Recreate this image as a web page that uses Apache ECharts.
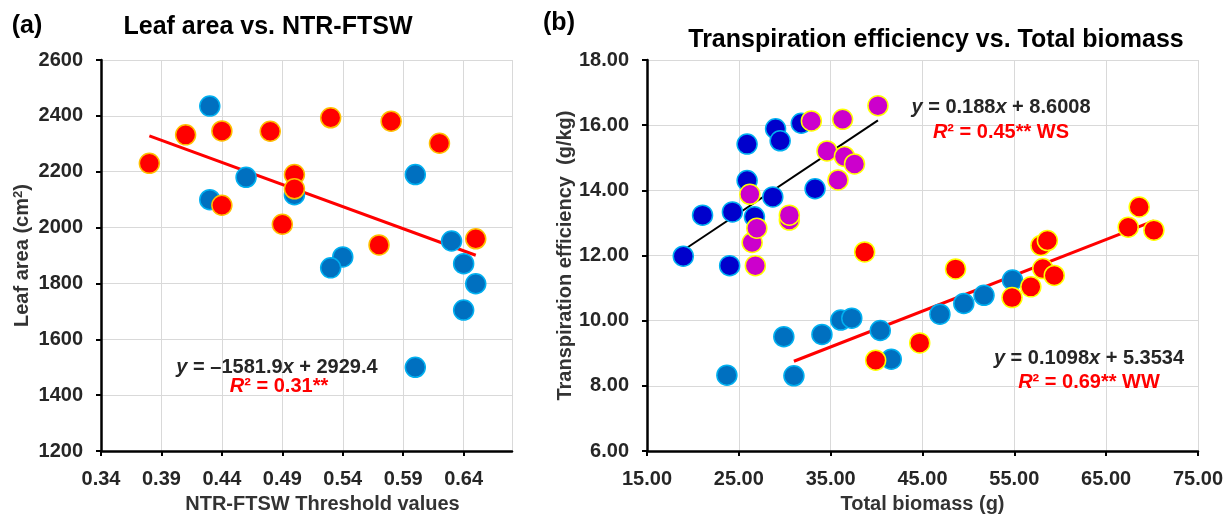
<!DOCTYPE html>
<html>
<head>
<meta charset="utf-8">
<script src="https://cdn.jsdelivr.net/npm/echarts@6/dist/echarts.min.js"></script>
<style>
  html, body { margin: 0; background: #fff; }
  #chart { width: 1226px; height: 519px; }
</style>
</head>
<body>
<div id="chart"></div>
<script>
// ---- (a) Leaf area vs. NTR-FTSW ----
var leafBlueX = [0.43, 0.43, 0.46, 0.50, 0.60, 0.63, 0.54, 0.53, 0.64, 0.65, 0.64, 0.60];
var leafBlueY = [2435, 2100, 2180, 2118, 2190, 1952, 1895, 1856, 1871, 1799, 1705, 1500];
var leafRedX = [0.38, 0.41, 0.44, 0.44, 0.48, 0.49, 0.50, 0.50, 0.53, 0.58, 0.62, 0.57, 0.65];
var leafRedY = [2230, 2332, 2346, 2080, 2345, 2012, 2190, 2139, 2393, 2381, 2302, 1938, 1960];
// trendline: slope, intercept, x from, x to
var leafFit = [-1581.9, 2929.4, 0.38, 0.65];

// ---- (b) Transpiration efficiency vs. Total biomass ----
// WS group
var wsBlueX = [18.95, 21.05, 24.3, 24.0, 25.9, 25.9, 26.7, 28.7, 29.0, 29.5, 31.8, 33.3];
var wsBlueY = [11.98, 13.24, 13.34, 11.69, 15.42, 14.30, 13.19, 13.80, 15.89, 15.52, 16.06, 14.05];
var wsPinkX = [26.2, 26.45, 26.96, 26.8, 30.5, 30.5, 32.9, 34.6, 35.8, 36.3, 36.5, 37.6, 40.15];
var wsPinkY = [13.88, 12.40, 12.84, 11.69, 13.09, 13.24, 16.13, 15.21, 14.32, 16.18, 15.04, 14.81, 16.60];
// WW group
var wwBlueX = [23.7, 29.9, 31.0, 34.05, 36.1, 37.3, 40.4, 41.6, 46.9, 49.5, 51.7, 54.8];
var wwBlueY = [8.33, 9.51, 8.31, 9.58, 10.02, 10.08, 9.70, 8.82, 10.20, 10.53, 10.78, 11.25];
var wwRedX = [38.7, 39.9, 44.7, 48.6, 54.75, 56.8, 58.1, 59.35, 57.9, 58.6, 67.4, 68.6, 70.2];
var wwRedY = [12.11, 8.79, 9.32, 11.59, 10.71, 11.04, 11.60, 11.39, 12.31, 12.46, 12.87, 13.49, 12.78];
var wsFit = [0.188, 8.6008, 18.95, 40.15];
var wwFit = [0.1098, 5.3534, 31.0, 70.2];

var FONT = "'Liberation Sans', Arial, sans-serif";

function zip(xs, ys) {
  return xs.map(function (x, i) { return [x, ys[i]]; });
}
function fitLine(f) {
  return [[f[2], f[0] * f[2] + f[1]], [f[3], f[0] * f[3] + f[1]]];
}

// common axis look (Excel style)
function axis(idx, min, max, interval, digits, name, nameGap, extra) {
  var a = {
    gridIndex: idx,
    type: 'value',
    min: min,
    max: max,
    interval: interval,
    name: name,
    nameLocation: 'middle',
    nameGap: nameGap,
    nameTextStyle: { fontFamily: FONT, fontWeight: 'bold', fontSize: 20, color: '#333' },
    axisLine: { show: true, onZero: false, lineStyle: { color: '#000', width: 2.5 } },
    axisTick: { show: true, length: 5, lineStyle: { color: '#000', width: 2 } },
    axisLabel: {
      fontFamily: FONT, fontWeight: 'bold', fontSize: 20, color: '#262626', margin: 18,
      formatter: function (v) { return v.toFixed(digits); }
    },
    splitLine: { show: true, lineStyle: { color: '#d9d9d9', width: 1 } }
  };
  for (var k in extra) a[k] = extra[k];
  return a;
}

function scatter(xi, data, color, border) {
  return {
    type: 'scatter', xAxisIndex: xi, yAxisIndex: xi, data: data,
    symbolSize: 20,
    itemStyle: { color: color, borderColor: border, borderWidth: 1.5, opacity: 1 },
    z: 3
  };
}
function trend(xi, f, color, width) {
  return {
    type: 'line', xAxisIndex: xi, yAxisIndex: xi, data: fitLine(f),
    showSymbol: false, silent: true,
    lineStyle: { color: color, width: width },
    z: 2
  };
}
function label(x, y, text, rich) {
  return {
    type: 'text', x: x, y: y, z: 10,
    style: { text: text, align: 'center', verticalAlign: 'middle', rich: rich, fill: '#000',
      font: 'bold 20px ' + FONT }
  };
}

// zrender rich text uses fill, not color
var eqRich = {
  b: { fontFamily: FONT, fontWeight: 'bold', fontSize: 20, fill: '#262626' },
  i: { fontFamily: FONT, fontWeight: 'bold', fontStyle: 'italic', fontSize: 20, fill: '#262626' },
  rb: { fontFamily: FONT, fontWeight: 'bold', fontSize: 20, fill: '#ff0000' },
  ri: { fontFamily: FONT, fontWeight: 'bold', fontStyle: 'italic', fontSize: 20, fill: '#ff0000' }
};
var titleRich = {
  t: { fontFamily: FONT, fontWeight: 'bold', fontSize: 25, fill: '#000' }
};

var chart = echarts.init(document.getElementById('chart'));
chart.setOption({
  backgroundColor: '#fff',
  animation: false,
  grid: [
    { left: 101, top: 60, width: 411, height: 395 },
    { left: 647, top: 60, width: 552, height: 395 }
  ],
  xAxis: [
    axis(0, 0.34, 0.68, 0.05, 2, 'NTR-FTSW Threshold values', 42, {
      nameTextStyle: { fontFamily: FONT, fontWeight: 'bold', fontSize: 20, color: '#333', padding: [0, 0, 0, 32] },
      axisLabel: {
        fontFamily: FONT, fontWeight: 'bold', fontSize: 20, color: '#262626', margin: 18,
        showMaxLabel: false,
        formatter: function (v) { return v.toFixed(2); }
      }
    }),
    axis(1, 15, 75, 10, 2, 'Total biomass (g)', 42, {})
  ],
  yAxis: [
    axis(0, 1200, 2600, 200, 0, '{n|Leaf area (cm}{s|2}{n|)}', 68, {
      nameTextStyle: {
        rich: {
          n: { fontFamily: FONT, fontWeight: 'bold', fontSize: 20, color: '#333' },
          s: { fontFamily: FONT, fontWeight: 'bold', fontSize: 13, color: '#333', verticalAlign: 'top', padding: [0, 0, 8, 0] }
        }
      }
    }),
    axis(1, 6, 18, 2, 2, 'Transpiration efficiency  (g/kg)', 72, {})
  ],
  series: [
    trend(0, leafFit, '#ff0000', 3),
    scatter(0, zip(leafBlueX, leafBlueY), '#0070c0', '#00b0f0'),
    scatter(0, zip(leafRedX, leafRedY), '#ff0000', '#ffc000'),
    trend(1, wsFit, '#000000', 2),
    trend(1, wwFit, '#ff0000', 3),
    scatter(1, zip(wsBlueX, wsBlueY), '#0000cc', '#00b0f0'),
    scatter(1, zip(wsPinkX, wsPinkY), '#cc00cc', '#ffff00'),
    scatter(1, zip(wwBlueX, wwBlueY), '#0070c0', '#00b0f0'),
    scatter(1, zip(wwRedX, wwRedY), '#ff0000', '#ffff00')
  ],
  graphic: [
    label(27, 26, '{t|(a)}', titleRich),
    label(268, 27, '{t|Leaf area vs. NTR-FTSW}', titleRich),
    label(559, 23, '{t|(b)}', titleRich),
    label(936, 40, '{t|Transpiration efficiency vs. Total biomass}', titleRich),
    label(277, 367, '{i|y}{b| = \u20131581.9}{i|x}{b| + 2929.4}', eqRich),
    label(279, 386, '{ri|R}{rb|\u00b2 = 0.31**}', eqRich),
    label(1001, 107, '{i|y}{b| = 0.188}{i|x}{b| + 8.6008}', eqRich),
    label(1001, 132, '{ri|R}{rb|\u00b2 = 0.45** WS}', eqRich),
    label(1089, 358, '{i|y}{b| = 0.1098}{i|x}{b| + 5.3534}', eqRich),
    label(1089, 382, '{ri|R}{rb|\u00b2 = 0.69** WW}', eqRich)
  ]
});
</script>
</body>
</html>
